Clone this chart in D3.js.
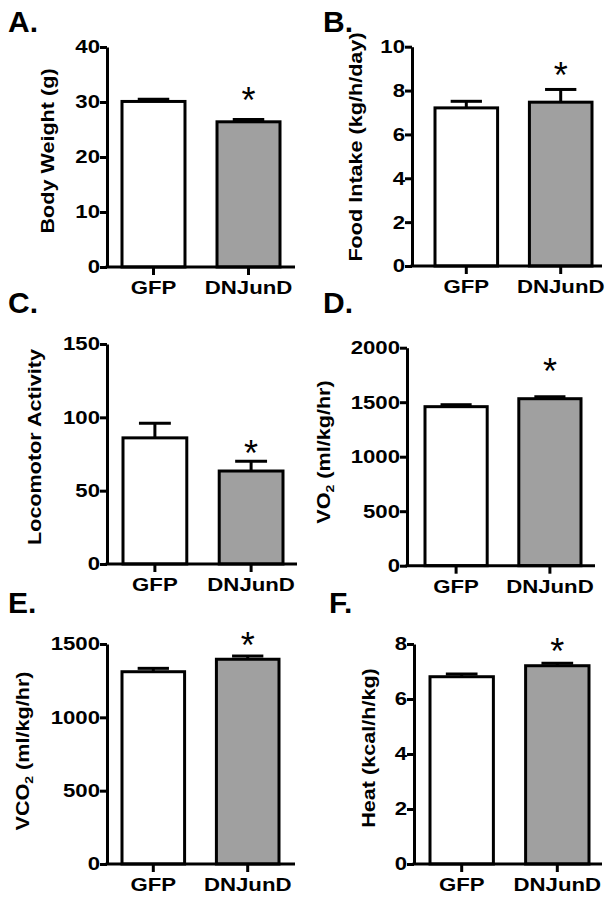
<!DOCTYPE html>
<html>
<head>
<meta charset="utf-8">
<script src="https://cdn.jsdelivr.net/npm/d3@7"></script>
<style>
  html, body { margin: 0; padding: 0; background: #fff; }
  svg { display: block; }
  text { font-family: "Liberation Sans", Arial, Helvetica, sans-serif; }
</style>
</head>
<body>
<svg id="chart" width="614" height="900"></svg>
<script>
// ---------------- data ----------------
const categories = ["GFP", "DNJunD"];
const panelLetters = ["A.", "B.", "C.", "D.", "E.", "F."];

const bodyWeight = [30.1, 26.4];
const bodyWeightSEM = [0.4, 0.4];
const foodIntake = [7.21, 7.47];
const foodIntakeSEM = [0.3, 0.58];
const locomotor = [86.0, 63.4];
const locomotorSEM = [10.0, 6.6];
const vo2 = [1459, 1532];
const vo2SEM = [18, 18];
const vco2 = [1311, 1396];
const vco2SEM = [23, 22];
const heat = [6.81, 7.21];
const heatSEM = [0.1, 0.09];

const ticksA = [0, 10, 20, 30, 40];
const ticksB = [0, 2, 4, 6, 8, 10];
const ticksC = [0, 50, 100, 150];
const ticksD = [0, 500, 1000, 1500, 2000];
const ticksE = [0, 500, 1000, 1500];
const ticksF = [0, 2, 4, 6, 8];

// y-axis titles: [main, subscript, rest]
const titleA = ["Body Weight (g)", "", ""];
const titleB = ["Food Intake (kg/h/day)", "", ""];
const titleC = ["Locomotor Activity", "", ""];
const titleD = ["VO", "2", " (ml/kg/hr)"];
const titleE = ["VCO", "2", " (ml/kg/hr)"];
const titleF = ["Heat (kcal/h/kg)", "", ""];

// level (data units) of the significance star above DNJunD
const starA = 32.0, starB = 9.1, starC = 81.8, starD = 1869, starE = 1555, starF = 8.07;

// ---------------- layout (pixels) ----------------
const layout = [
  { x0: 107, x1: 295, yTop: 47,    yBot: 267,   bL: 122, bR: 280, lx: 8,   ly: 32,  tx: 54,  ty: 151 },
  { x0: 412, x1: 602, yTop: 46.7,  yBot: 266,   bL: 435, bR: 592, lx: 323, ly: 32,  tx: 362, ty: 147 },
  { x0: 107, x1: 297, yTop: 344,   yBot: 564,   bL: 123, bR: 283, lx: 8,   ly: 313, tx: 41,  ty: 447 },
  { x0: 407, x1: 595, yTop: 347.7, yBot: 565.7, bL: 425, bR: 581, lx: 323, ly: 313, tx: 330, ty: 452 },
  { x0: 107, x1: 295, yTop: 644,   yBot: 864,   bL: 122, bR: 279, lx: 8,   ly: 613, tx: 29,  ty: 751 },
  { x0: 414, x1: 602, yTop: 644,   yBot: 864,   bL: 430, bR: 589, lx: 329, ly: 613, tx: 375, ty: 748 }
];

const panels = [
  { values: bodyWeight, sem: bodyWeightSEM, ticks: ticksA, title: titleA, star: starA },
  { values: foodIntake, sem: foodIntakeSEM, ticks: ticksB, title: titleB, star: starB },
  { values: locomotor,  sem: locomotorSEM,  ticks: ticksC, title: titleC, star: starC },
  { values: vo2,        sem: vo2SEM,        ticks: ticksD, title: titleD, star: starD },
  { values: vco2,       sem: vco2SEM,       ticks: ticksE, title: titleE, star: starE },
  { values: heat,       sem: heatSEM,       ticks: ticksF, title: titleF, star: starF }
];

const fills = ["#ffffff", "#a0a0a0"];
const LW = 3;
const STRETCH = 1.2;
const TICK_FS = 18.5;
const TITLE_FS = 18;

const svg = d3.select("#chart");

panels.forEach((p, i) => {
  const L = layout[i];
  const g = svg.append("g");

  const y = d3.scaleLinear()
    .domain([p.ticks[0], p.ticks[p.ticks.length - 1]])
    .range([L.yBot, L.yTop]);
  const x = d3.scaleBand()
    .domain(categories)
    .range([L.bL, L.bR])
    .paddingInner(0.337)
    .paddingOuter(0);

  // panel letter
  g.append("text")
    .attr("x", L.lx).attr("y", L.ly)
    .attr("font-size", 30).attr("font-weight", "bold")
    .text(panelLetters[i]);

  // error bars (upper only)
  const capW = x.bandwidth() * 0.5;
  categories.forEach((c, j) => {
    const cx = x(c) + x.bandwidth() / 2;
    const top = y(p.values[j] + p.sem[j]);
    g.append("line")
      .attr("x1", cx).attr("x2", cx)
      .attr("y1", y(p.values[j])).attr("y2", top)
      .attr("stroke", "#000").attr("stroke-width", LW);
    g.append("line")
      .attr("x1", cx - capW / 2).attr("x2", cx + capW / 2)
      .attr("y1", top).attr("y2", top)
      .attr("stroke", "#000").attr("stroke-width", LW);
  });

  // bars
  g.selectAll("rect.bar")
    .data(categories)
    .join("rect")
    .attr("class", "bar")
    .attr("x", c => x(c))
    .attr("width", x.bandwidth())
    .attr("y", (c, j) => y(p.values[j]))
    .attr("height", (c, j) => y(0) - y(p.values[j]))
    .attr("fill", (c, j) => fills[j])
    .attr("stroke", "#000")
    .attr("stroke-width", LW);

  // star over DNJunD
  const sx = x(categories[1]) + x.bandwidth() / 2;
  g.append("text")
    .attr("x", 0).attr("y", 0)
    .attr("transform", `translate(${sx},${y(p.star)})`)
    .attr("text-anchor", "middle")
    .attr("dy", "0.6em")
    .attr("font-size", 36)
    .text("*");

  // y axis
  const yAxis = d3.axisLeft(y).tickValues(p.ticks).tickFormat(d3.format("d"))
    .tickSize(7).tickPadding(3).tickSizeOuter(0);
  const ya = g.append("g").attr("transform", `translate(${L.x0},0)`).call(yAxis);
  ya.select(".domain").attr("stroke-width", LW).attr("stroke", "#000");
  ya.selectAll(".tick line").attr("stroke-width", LW).attr("stroke", "#000");
  ya.selectAll(".tick text")
    .attr("x", null)
    .attr("transform", `translate(-7,0) scale(${STRETCH},1)`)
    .attr("font-size", TICK_FS).attr("font-weight", "bold")
    .attr("font-family", null).attr("fill", "#000");

  // x axis
  const xAxis = d3.axisBottom(x).tickSize(8).tickPadding(7).tickSizeOuter(0);
  const xa = g.append("g").attr("transform", `translate(0,${L.yBot})`).call(xAxis);
  xa.select(".domain").remove();
  xa.selectAll(".tick line").attr("stroke-width", LW).attr("stroke", "#000");
  xa.selectAll(".tick text")
    .attr("y", null)
    .attr("transform", `translate(0,14) scale(${STRETCH},1)`)
    .attr("font-size", TICK_FS).attr("font-weight", "bold")
    .attr("font-family", null).attr("fill", "#000");
  g.append("line")
    .attr("x1", L.x0 - LW / 2).attr("x2", L.x1)
    .attr("y1", L.yBot).attr("y2", L.yBot)
    .attr("stroke", "#000").attr("stroke-width", LW);

  // y title (rotated)
  const t = g.append("text")
    .attr("transform", `translate(${L.tx},${L.ty}) rotate(-90) scale(${STRETCH},1)`)
    .attr("text-anchor", "middle")
    .attr("font-size", TITLE_FS).attr("font-weight", "bold");
  t.append("tspan").text(p.title[0]);
  if (p.title[1]) {
    t.append("tspan").attr("font-size", TITLE_FS * 0.65).attr("dy", 4).text(p.title[1]);
    t.append("tspan").attr("dy", -4).text(p.title[2]);
  }
});
</script>
</body>
</html>
